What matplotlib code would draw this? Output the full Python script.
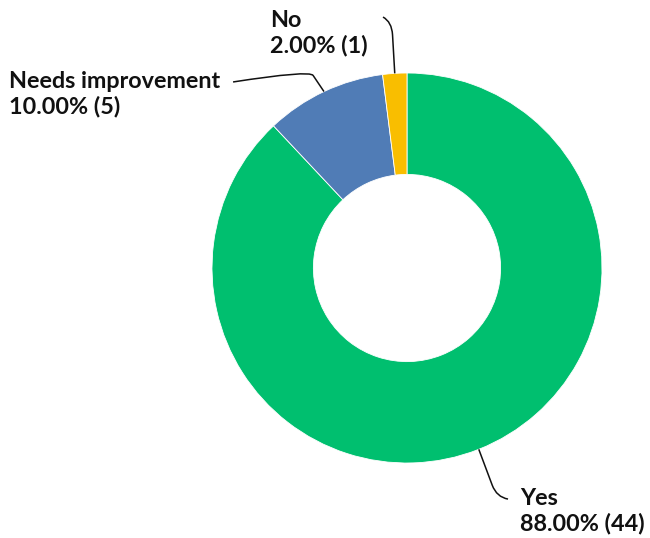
import matplotlib.pyplot as plt
import numpy as np
from matplotlib.path import Path
from matplotlib.patches import PathPatch

plt.rcParams['font.family'] = ['Lato', 'DejaVu Sans']

answers = ["Yes", "Needs improvement", "No"]
counts = [44, 5, 1]
colors = ["#00BF6F", "#507CB6", "#F9BE00"]

# leader line corner / end and text anchor (last line baseline), in donut radius units
corners = [(0.46, -1.175), (-0.50, 1.015), (-0.078, 1.262)]
ends = [(0.518, -1.185), (-0.892, 0.954), (-0.123, 1.287)]
text_pos = [(0.579, -1.344), (-0.959, 0.795), (-0.20, 1.108)]
text_ha = ["left", "right", "right"]

total = sum(counts)
percents = [c * 100.0 / total for c in counts]

fig = plt.figure(figsize=(6.5, 5.38), dpi=100)
ax = fig.add_axes([0, 0, 1, 1])
ax.pie(counts, colors=colors, startangle=90, counterclock=False, radius=1.0,
       wedgeprops=dict(width=0.52, edgecolor="white", linewidth=0.6))

ax.set_xlim(-407 / 195, (650 - 407) / 195)
ax.set_ylim(-(538 - 268) / 195, 268 / 195)
ax.set_aspect("auto")
ax.axis("off")

start = 0.0
for i, c in enumerate(counts):
    mid = start + c / total * 180.0
    start += c / total * 360.0
    theta = np.deg2rad(90 - mid)
    p0 = np.array([np.cos(theta), np.sin(theta)])
    corner = np.array(corners[i])
    end = np.array(ends[i])
    p1 = corner + (p0 - corner) * 0.25
    verts = [p0, p1, corner, end]
    codes = [Path.MOVETO, Path.LINETO, Path.CURVE3, Path.CURVE3]
    ax.add_patch(PathPatch(Path(verts, codes), fill=False, lw=1.1, edgecolor="#111111"))

    label = "{}\n{:.2f}% ({})".format(answers[i], percents[i], c)
    ax.text(text_pos[i][0], text_pos[i][1], label, ha=text_ha[i], va="baseline",
            multialignment="left", fontsize=16.8, fontweight="bold",
            color="#111111", linespacing=1.2)

plt.savefig("out.png", dpi=100)
